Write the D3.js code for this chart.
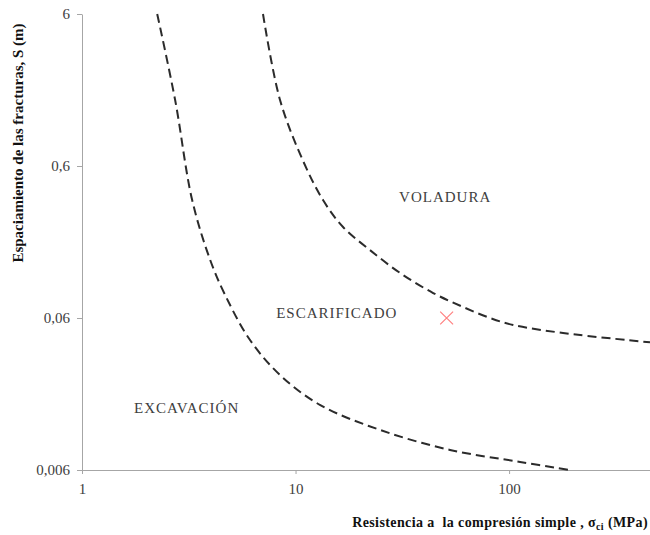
<!DOCTYPE html>
<html>
<head>
<meta charset="utf-8">
<script src="https://cdn.jsdelivr.net/npm/d3@7"></script>
<style>
  body { margin: 0; background: #fff; }
</style>
</head>
<body>
<div id="chart"></div>
<script>
// boundaries between zones (sigma_ci MPa, S m)
var limitExcavacionX = [2.25, 2.73, 3.28, 3.98, 4.68, 6.12, 8.46, 13.0, 24.9, 52.9, 112.6, 193];
var limitExcavacionY = [6, 1.63, 0.358, 0.145, 0.085, 0.043, 0.0253, 0.0161, 0.011, 0.00813, 0.00678, 0.006];
var limitVoladuraX = [7.04, 8.46, 10.8, 13.45, 16.69, 22.3, 30.9, 44.1, 60.9, 81.5, 104.4, 179, 457];
var limitVoladuraY = [6, 1.63, 0.657, 0.358, 0.238, 0.168, 0.1186, 0.0876, 0.0709, 0.06, 0.054, 0.0478, 0.0415];
var pointX = [51];
var pointY = [0.06];
var xTicks = [1, 10, 100];
var yTicks = [0.006, 0.06, 0.6, 6];
var xDomain = [1, 457];
var yDomain = [0.006, 6];
var zoneNames = ["VOLADURA", "ESCARIFICADO", "EXCAVACIÓN"];
var zoneX = [50.2, 15.6, 3.09];
var zoneY = [0.377, 0.0647, 0.0154];

var serif = "'Liberation Serif', 'Times New Roman', Times, serif";
var width = 650, height = 535;
var margin = { top: 14, right: 0, bottom: 65, left: 82 };

var svg = d3.select("#chart").append("svg")
  .attr("width", width)
  .attr("height", height);

var x = d3.scaleLog().domain(xDomain).range([margin.left, width - margin.right]);
var y = d3.scaleLog().domain(yDomain).range([height - margin.bottom, margin.top]);

var fmt = function(d) { return String(d).replace(".", ","); };

// axes
var gx = svg.append("g")
  .attr("transform", "translate(0," + (height - margin.bottom) + ")")
  .call(d3.axisBottom(x).tickValues(xTicks).tickFormat(fmt).tickSize(4).tickSizeOuter(0).tickPadding(9));

var gy = svg.append("g")
  .attr("transform", "translate(" + margin.left + ",0)")
  .call(d3.axisLeft(y).tickValues(yTicks).tickFormat(fmt).tickSize(5).tickSizeOuter(0).tickPadding(7));

[gx, gy].forEach(function(g) {
  g.attr("font-family", serif).attr("font-size", 15);
  g.selectAll("path, line").attr("stroke", "#a6a6a6");
  g.selectAll("text").attr("fill", "#404040");
});

// dashed boundaries
var line = d3.line()
  .x(function(d) { return x(d[0]); })
  .y(function(d) { return y(d[1]); })
  .curve(d3.curveCatmullRom.alpha(0.5));

var curves = [
  d3.zip(limitExcavacionX, limitExcavacionY),
  d3.zip(limitVoladuraX, limitVoladuraY)
];

svg.selectAll(".limit")
  .data(curves)
  .enter().append("path")
  .attr("class", "limit")
  .attr("d", line)
  .attr("fill", "none")
  .attr("stroke", "#2b2b2b")
  .attr("stroke-width", 2)
  .attr("stroke-dasharray", "9,5");

// the sample point
svg.selectAll(".pt")
  .data(d3.zip(pointX, pointY))
  .enter().append("path")
  .attr("class", "pt")
  .attr("transform", function(d) { return "translate(" + x(d[0]) + "," + y(d[1]) + ")"; })
  .attr("d", d3.symbol(d3.symbolX, 110))
  .attr("fill", "none")
  .attr("stroke", "#ff8080")
  .attr("stroke-width", 1.2);

// zone names
svg.selectAll(".zone")
  .data(zoneNames)
  .enter().append("text")
  .attr("class", "zone")
  .attr("x", function(d, i) { return x(zoneX[i]); })
  .attr("y", function(d, i) { return y(zoneY[i]); })
  .attr("text-anchor", "middle")
  .attr("dy", "0.35em")
  .attr("font-family", serif)
  .attr("font-size", 15)
  .attr("letter-spacing", 1)
  .attr("fill", "#404040")
  .text(function(d) { return d; });

// axis titles
var xt = svg.append("text")
  .attr("x", 648)
  .attr("y", 527)
  .attr("text-anchor", "end")
  .attr("font-family", serif)
  .attr("font-size", 14)
  .attr("font-weight", "bold")
  .attr("letter-spacing", 0.4)
  .attr("fill", "#111")
  .style("white-space", "pre");
xt.append("tspan").text("Resistencia a  la compresión simple , σ");
xt.append("tspan").attr("dy", 3).attr("font-size", 10).text("ci");
xt.append("tspan").attr("dy", -3).text(" (MPa)");

svg.append("text")
  .attr("transform", "translate(23,143) rotate(-90)")
  .attr("text-anchor", "middle")
  .attr("font-family", serif)
  .attr("font-size", 15)
  .attr("font-weight", "bold")
  .attr("fill", "#111")
  .text("Espaciamiento de las fracturas, S (m)");
</script>
</body>
</html>
